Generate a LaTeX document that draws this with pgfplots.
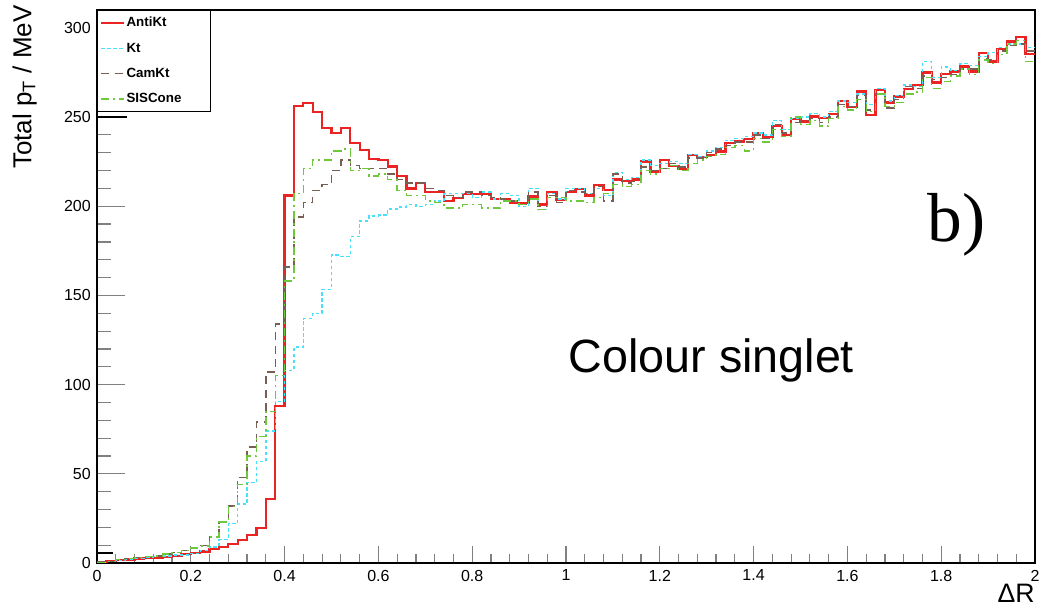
\documentclass[border=0pt]{standalone}
\usepackage{pgfplots}
\pgfplotsset{compat=1.18}
\usepackage{pgfplotstable}
\usepackage{fontspec}
\setmainfont{Liberation Sans}
\newfontfamily\serifb{Liberation Serif}
\definecolor{cRed}{RGB}{235,35,35}
\definecolor{cCyan}{RGB}{70,225,250}
\definecolor{cBrown}{RGB}{120,95,85}
\definecolor{cGreen}{RGB}{110,200,60}

\pgfplotstableread{
x a k c s
0.00 0.5 0.3 0.5 0.3
0.02 1 0.8 1 1
0.04 1.5 1.5 1.8 2
0.06 2 2 2.5 2.5
0.08 2.5 2.5 3 3
0.10 3 3 3.5 3.5
0.12 3 3.5 4 4
0.14 3.5 4 5 5
0.16 4 4.5 6 6
0.18 5 4.5 7 7
0.20 5.5 5.5 8.5 8.5
0.22 6.5 7 10 9.5
0.24 8 9 15 14.5
0.26 9 13 23 23
0.28 10.5 22 32 31.6
0.30 13 33 48 44
0.32 15.5 45 65 60
0.34 19.6 57 79 71
0.36 36 74 107 85
0.38 88 90.5 134 105
0.40 206 108 166 158
0.42 256 121 194 207
0.44 258 137 202 221
0.46 253 140 209 226
0.48 244 153.5 212 226
0.50 241 172.7 220 231
0.52 244 172 226 232
0.54 235.4 183 223 220
0.56 231.5 191.8 221 221
0.58 226.5 194.6 221 217
0.60 226 195 221 218
0.62 222.3 198.5 218 215
0.64 217 199.5 215 209
0.66 210 200.8 213 206
0.68 213 200 213 206
0.70 208 201 210 203
0.72 208 203 209 202
0.74 203 207 206 199
0.76 204.5 207 205 199
0.78 207 207 208 201
0.80 207 205 208 201
0.82 207 208 206 199
0.84 204 204 205 199
0.86 204 207 204 203
0.88 202 206 203 203
0.90 202 200 201 201
0.92 205.5 210 208 204
0.94 201 198 200 198
0.96 208 207 206 205
0.98 203.6 204 202 205
1.00 208 210 209 203
1.02 209.6 210 208 203
1.04 206 207 207 202
1.06 212 210 211 205
1.08 209 206 203 207
1.10 215 219 218 212
1.12 214 215 213 211
1.14 215 216 214 212
1.16 225 226 222 220
1.18 219.5 223 220 218
1.20 226 224 221 221
1.22 222.7 225 224 223
1.24 221 224 222 220
1.26 228.8 229 227 224
1.28 227.5 228 227 226
1.30 228.8 231 230 228
1.32 230.7 233 232 229
1.34 235.4 237 234 233
1.36 236.3 238 236 234
1.38 237.6 239 236 231
1.40 241 241 240 238
1.42 238.7 240 238 236
1.44 245 248 246 243
1.46 240 243 241 239
1.48 248.8 249 247 250
1.50 247.5 250 248 246
1.52 250.3 252 249 248
1.54 249.5 250 247 245
1.56 251.8 253 250 249
1.58 259 259 257 256
1.60 255.6 258 256 254
1.62 264.3 263 262 260
1.64 251.3 257 254 253
1.66 265.3 266 263 263
1.68 258.2 259 255 256
1.70 261.5 262 260 258
1.72 265.7 268 267 263
1.74 268 267 266 264
1.76 275 281 273 272
1.78 269.4 272 271 266
1.80 274.3 278 272 270
1.82 275.6 276 274 273
1.84 278.4 280 277 277
1.86 275.6 279 277 274
1.88 285.9 284 283 282
1.90 281.2 286 282 280
1.92 288 289 287 285
1.94 292.4 291 290 291
1.96 294.8 291 291 293
1.98 285.5 289 287 281
2.00 285.5 289 287 281
}\histdata

\begin{document}
\begin{tikzpicture}
\path[use as bounding box] (-72.75pt,-39pt) rectangle (708pt,422.25pt);
\begin{axis}[
  name=ax, at={(0pt,0pt)}, anchor=south west,
  scale only axis, width=703.5pt, height=414.75pt,
  xmin=0, xmax=2, ymin=0, ymax=310,
  axis line style={line width=1pt},
  tick pos=left, tick align=inside,
  xtick={0,0.2,0.4,0.6,0.8,1,1.2,1.4,1.6,1.8,2},
  xticklabels={0,0.2,0.4,0.6,0.8,1,1.2,1.4,1.6,1.8,2},
  ytick={0,50,100,150,200,250,300},
  yticklabels={0,50,100,150,200,250,300},
  minor x tick num=4, minor y tick num=4,
  xtick style={line width=0.9pt,/pgfplots/major tick length=12.75pt,/pgfplots/minor tick length=6.75pt},
  ytick style={line width=0.9pt,/pgfplots/major tick length=21pt,/pgfplots/minor tick length=10.5pt},
  /pgf/number format/assume math mode=true,
  ticklabel style={font=\fontsize{12}{12}\selectfont},
  yticklabel style={inner sep=0pt, xshift=-4.5pt},
  xticklabel style={inner sep=0pt, yshift=-5pt},
  legend style={at={(rel axis cs:0,1)}, anchor=north west, draw=black, line width=1pt,
    font=\bfseries\fontsize{10}{10}\selectfont, inner xsep=2pt, inner ysep=4pt, row sep=8.5pt,
    nodes={inner sep=1pt}},
  legend cell align=left,
  legend image code/.code={\draw[#1] (0pt,0pt) -- (17pt,0pt);},
  clip=true,
]
\addplot[const plot, cRed, line width=1.7pt] table[x=x,y=a] {\histdata};
\addlegendentry{\makebox[60pt][l]{AntiKt}}
\addplot[const plot, cCyan, line width=1pt, dash pattern=on 2.5pt off 2pt] table[x=x,y=k] {\histdata};
\addlegendentry{\makebox[60pt][l]{Kt}}
\addplot[const plot, cBrown, line width=1pt, dash pattern=on 6pt off 4pt] table[x=x,y=c] {\histdata};
\addlegendentry{\makebox[60pt][l]{CamKt}}
\addplot[const plot, cGreen, line width=1pt, dash pattern=on 6pt off 3pt on 1.5pt off 3pt] table[x=x,y=s] {\histdata};
\addlegendentry{\makebox[60pt][l]{SISCone}}
\draw[line width=2pt, black] (axis cs:0,250) -- (axis cs:0.064,250);
\draw[line width=1.5pt, black] (axis cs:0,5.6) -- (axis cs:0.034,5.6);
\node[anchor=base, font=\fontsize{35}{40}\selectfont, inner sep=0pt] at (axis cs:1.31,107) {Colour singlet};
\node[anchor=base, font=\serifb\fontsize{52}{56}\selectfont, inner sep=0pt] at (axis cs:1.832,180) {b)};
\end{axis}
\node[rotate=90, anchor=south east, inner sep=0pt, font=\fontsize{19.5}{22}\selectfont] at ([xshift=-45pt,yshift=3.75pt]ax.north west) {Total p\textsubscript{T} / MeV};
\node[anchor=north east, inner sep=0pt, font=\fontsize{20}{22}\selectfont] at ([yshift=-16pt]ax.south east) {ΔR};
\end{tikzpicture}
\end{document}
